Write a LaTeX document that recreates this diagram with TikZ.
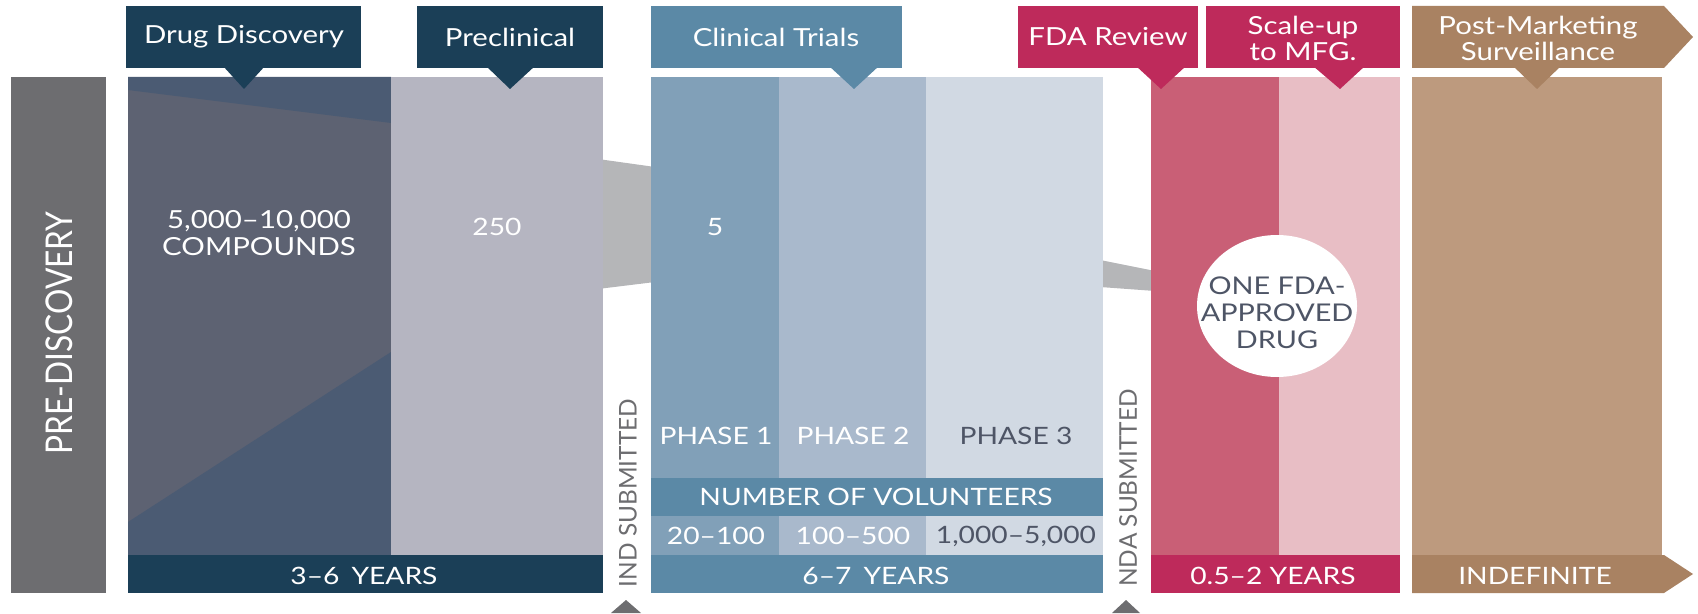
\documentclass[tikz,border=0pt]{standalone}
\usepackage{fontspec}
\setmainfont{Lato}[FakeStretch=1.18]
\newfontfamily\tallfont{Lato}[FakeStretch=0.86]
\newfontfamily\sidefont{Lato}
\definecolor{navy}{HTML}{1B3F57}
\definecolor{predisc}{HTML}{6D6D70}
\definecolor{ddmid}{HTML}{5D6272}
\definecolor{ddblue}{HTML}{4B5B73}
\definecolor{precl}{HTML}{B5B5C1}
\definecolor{wedge}{HTML}{B5B6B8}
\definecolor{cltrial}{HTML}{5B89A6}
\definecolor{phaseA}{HTML}{81A0B8}
\definecolor{phaseB}{HTML}{A9B9CC}
\definecolor{phaseC}{HTML}{D1D9E3}
\definecolor{magenta}{HTML}{BE2A5B}
\definecolor{fdablock}{HTML}{C95F76}
\definecolor{scaleblock}{HTML}{E8BEC5}
\definecolor{postlabel}{HTML}{A98262}
\definecolor{postblock}{HTML}{BD9A7E}
\definecolor{darktext}{HTML}{4E5566}
\definecolor{sidetext}{HTML}{6D6D70}
\begin{document}
\begin{tikzpicture}[x=1bp,y=-1bp,
  every node/.style={inner sep=0pt, text=white, align=center},
  lbl/.style={font=\fontsize{25}{26}\selectfont},
  body/.style={font=\fontsize{24}{24}\selectfont},
  dark/.style={text=darktext},
  side/.style={font=\sidefont\fontsize{24.5}{25}\selectfont, text=sidetext, rotate=90}]
\useasboundingbox (0,0) rectangle (1698,614);
% wedges (behind)
\fill[wedge] (598,159) -- (655,167) -- (655,282) -- (598,289) -- cycle;
\fill[wedge] (1100,260) -- (1155,271) -- (1155,291) -- (1100,287) -- cycle;
% pre-discovery
\fill[predisc] (11,77) rectangle (106,593);
% drug discovery block
\fill[ddmid] (128,77) rectangle (391,555);
\fill[ddblue] (128,77) -- (391,77) -- (391,123) -- (128,90) -- cycle;
\fill[ddblue] (128,522) -- (391,352) -- (391,555) -- (128,555) -- cycle;
\fill[precl] (391,77) rectangle (603,555);
\fill[navy] (128,555) rectangle (603,593);
% clinical
\fill[phaseA] (651,77) rectangle (779,555);
\fill[phaseB] (779,77) rectangle (926,555);
\fill[phaseC] (926,77) rectangle (1103,555);
\fill[cltrial] (651,478) rectangle (1103,516);
\fill[cltrial] (651,555) rectangle (1103,593);
% fda
\fill[fdablock] (1151,77) rectangle (1279,555);
\fill[scaleblock] (1279,77) rectangle (1400,555);
\fill[magenta] (1151,555) rectangle (1400,593);
% post marketing
\fill[postblock] (1412,77) rectangle (1662,555);
\fill[postlabel] (1412,555) -- (1664,555) -- (1693,574) -- (1664,593) -- (1412,593) -- cycle;
% circle
\fill[white] (1277,306) ellipse [x radius=80, y radius=71];
% top labels
\fill[navy] (126,6) rectangle (361,68);
\fill[navy] (223,66) -- (265,66) -- (244,89) -- cycle;
\fill[navy] (417,6) rectangle (603,68);
\fill[navy] (486,66) -- (535,66) -- (510,89) -- cycle;
\fill[cltrial] (651,6) rectangle (902,68);
\fill[cltrial] (829,66) -- (879,66) -- (854,89) -- cycle;
\fill[magenta] (1018,6) rectangle (1198,68);
\fill[magenta] (1136,66) -- (1186,66) -- (1161,89) -- cycle;
\fill[magenta] (1206,6) rectangle (1400,68);
\fill[magenta] (1313,66) -- (1365,66) -- (1340,89) -- cycle;
\fill[postlabel] (1412,6) -- (1664,6) -- (1693,37) -- (1664,68) -- (1412,68) -- cycle;
\fill[postlabel] (1513,66) -- (1561,66) -- (1537,89) -- cycle;
% markers
\fill[predisc] (611,613) -- (641,613) -- (626,600) -- cycle;
\fill[predisc] (1112,613) -- (1140,613) -- (1126,600) -- cycle;
% texts
\node[lbl] (tdd) at (244,37) {Drug Discovery};
\node[lbl] (tpre) at (510,37) {Preclinical};
\node[lbl] (tcl) at (776,37) {Clinical Trials};
\node[lbl] (tfda) at (1108,37) {FDA Review};
\node[lbl] (tscale) at (1303,38) {Scale-up\\to MFG.};
\node[lbl] (tpost) at (1538,38) {Post-Marketing\\Surveillance};
\node[font=\tallfont\fontsize{37}{37}\selectfont, rotate=90] (tpred) at (59,333) {PRE-DISCOVERY};
\node[font=\fontsize{25}{27}\selectfont] (tcomp) at (259,233) {5,000–10,000\\COMPOUNDS};
\node[body] (t250) at (497,227) {250};
\node[body] (t5) at (715,227) {5};
\node[body] (p1) at (716,436) {PHASE 1};
\node[body] (p2) at (853,436) {PHASE 2};
\node[body,dark] (p3) at (1016,436) {PHASE 3};
\node[body] (nvol) at (876,497) {NUMBER OF VOLUNTEERS};
\node[body] (v1) at (716,536) {20–100};
\node[body] (v2) at (853,536) {100–500};
\node[body,dark] (v3) at (1016,536) {1,000–5,000};
\node[body] (y1) at (364,576) {3–6\enspace YEARS};
\node[body] (y2) at (876,576) {6–7\enspace YEARS};
\node[body] (y3) at (1273,576) {0.5–2 YEARS};
\node[body] (y4) at (1535,576) {INDEFINITE};
\node[side] (ind) at (628,493) {IND SUBMITTED};
\node[side] (nda) at (1128,488) {NDA SUBMITTED};
\node[font=\fontsize{24.5}{27}\selectfont, dark] (one) at (1277,313) {ONE FDA-\\APPROVED\\DRUG};
\end{tikzpicture}
\end{document}
